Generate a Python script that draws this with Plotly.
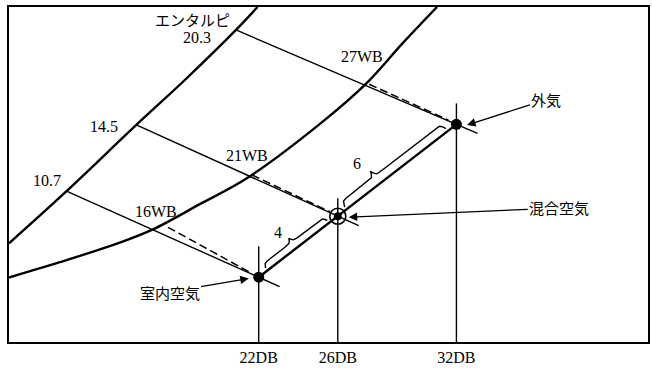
import numpy as np
import plotly.graph_objects as go

# ---------------- data ----------------
point_names = ["室内空気", "混合空気", "外気"]
db_points = [22, 26, 32]            # dry-bulb temperature of each state
w_points = [8.65, 13.2, 20.05]      # vertical (humidity) coordinate of each state
wb_values = [16, 21, 27]            # wet-bulb of each state
enthalpy_values = [10.7, 14.5, 20.3]
enth_db = [12.28, 15.81, 20.85]     # where each WB line leaves the enthalpy scale
enth_w = [15.07, 20.01, 27.09]
scale_db = [9.37, 12.28, 15.81, 18.33, 20.85, 21.94]   # enthalpy scale curve
scale_w = [11.18, 15.07, 20.01, 23.45, 27.09, 28.80]
sat_db = [9.37, 11.94, 14.97, 16.65, 19.00, 21.44, 25.05, 27.46, 29.25, 31.02]  # saturation curve
sat_w = [8.63, 9.77, 11.23, 12.22, 14.08, 16.07, 20.03, 23.13, 26.05, 28.80]
mix_ratio = [4, 6]

# ---------------- layout / scale helpers ----------------
FW, FH = 652, 368
ML, MR, MT, MB = 9, 2, 7, 25
PW, PH = FW - ML - MR, FH - MT - MB
XR = [9.37, 41.69]
YR = [3.82, 28.80]


def px(x):
    return ML + (x - XR[0]) / (XR[1] - XR[0]) * PW


def py(y):
    return MT + (YR[1] - y) / (YR[1] - YR[0]) * PH


def dx(p):
    return XR[0] + (p - ML) / PW * (XR[1] - XR[0])


def dy(p):
    return YR[1] - (p - MT) / PH * (YR[1] - YR[0])


def to_data(pts):
    pts = np.asarray(pts)
    return [dx(v) for v in pts[:, 0]], [dy(v) for v in pts[:, 1]]


def sig(v):
    return 1.0 / (1.0 + np.exp(-v))


def brace(p0, p1, frac, shrink=11.0, base=3.0, height=11.0, beta=0.9, n=80):
    p0 = np.array(p0, float)
    p1 = np.array(p1, float)
    d = p1 - p0
    u = d / np.hypot(*d)
    nrm = np.array([u[1], -u[0]])
    a = p0 + shrink * u
    b = p1 - shrink * u
    L = np.hypot(*(b - a))
    st = frac * L
    s1 = np.linspace(0, st, n)
    h1 = sig(beta * s1) - 0.5 + sig(beta * (s1 - st)) - sig(-beta * st)
    rt = L - st
    s2 = np.linspace(st, L, n)
    r = L - s2
    h2 = sig(beta * r) - 0.5 + sig(beta * (r - rt)) - sig(-beta * rt)
    s = np.concatenate([s1, s2])
    h = np.concatenate([h1, h2])
    off = base + height * h
    pts = a[None, :] + s[:, None] * u[None, :] + off[:, None] * nrm[None, :]
    tip = a + st * u + (base + height) * nrm
    return pts, tip


fig = go.Figure()
BLK = "black"

# enthalpy scale curve and saturation curve
fig.add_trace(go.Scatter(x=scale_db, y=scale_w, mode="lines",
                         line=dict(color=BLK, width=2.4, shape="spline"), hoverinfo="skip"))
fig.add_trace(go.Scatter(x=sat_db, y=sat_w, mode="lines",
                         line=dict(color=BLK, width=2.4, shape="spline"), hoverinfo="skip"))

state_px = [np.array([px(x), py(y)]) for x, y in zip(db_points, w_points)]

# wet-bulb lines and dashed enthalpy lines
dash_t = [0.51, 0.57, 0.60]
dash_off = [8.5, 2.2, 2.5]
for i in range(3):
    E = np.array([px(enth_db[i]), py(enth_w[i])])
    S = state_px[i]
    d = S - E
    u = d / np.hypot(*d)
    nrm = np.array([u[1], -u[0]])
    end = S + 23 * u
    xs, ys = to_data([E, end])
    fig.add_trace(go.Scatter(x=xs, y=ys, mode="lines",
                             line=dict(color=BLK, width=1.4), hoverinfo="skip"))
    a = E + dash_t[i] * d + dash_off[i] * nrm
    b = S - 9 * u + 0.8 * nrm
    xs, ys = to_data([a, b])
    fig.add_trace(go.Scatter(x=xs, y=ys, mode="lines",
                             line=dict(color=BLK, width=1.5, dash="8px,4px"), hoverinfo="skip"))

# vertical dry-bulb lines
ext = [31, 18, 21]
for i in range(3):
    fig.add_trace(go.Scatter(x=[db_points[i], db_points[i]],
                             y=[YR[0], dy(state_px[i][1] - ext[i])], mode="lines",
                             line=dict(color=BLK, width=1.4), hoverinfo="skip"))

# mixing line
fig.add_trace(go.Scatter(x=[db_points[0], db_points[2]], y=[w_points[0], w_points[2]],
                         mode="lines", line=dict(color=BLK, width=2.4), hoverinfo="skip"))

# braces 4 and 6
br4, tip4 = brace(state_px[0], state_px[1], 0.47, height=9.5)
br6, tip6 = brace(state_px[1], state_px[2], 0.33, height=12.5)
for br in (br4, br6):
    xs, ys = to_data(br)
    fig.add_trace(go.Scatter(x=xs, y=ys, mode="lines",
                             line=dict(color=BLK, width=1.4), hoverinfo="skip"))

# state markers
fig.add_trace(go.Scatter(x=[db_points[0], db_points[2]], y=[w_points[0], w_points[2]],
                         mode="markers", marker=dict(color=BLK, size=11), hoverinfo="skip"))
fig.add_trace(go.Scatter(x=[db_points[1]], y=[w_points[1]], mode="markers",
                         marker=dict(symbol="circle-open", color=BLK, size=16,
                                     line=dict(width=1.6, color=BLK)), hoverinfo="skip"))
fig.add_trace(go.Scatter(x=[db_points[1]], y=[w_points[1]], mode="markers",
                         marker=dict(color=BLK, size=8), hoverinfo="skip"))

SERIF = dict(family="Liberation Serif, Times New Roman, serif", size=16, color=BLK)
JP = dict(family="Noto Sans CJK JP", size=15, color=BLK)
ann = []


def text_at(cx, cy, t, font):
    ann.append(dict(x=dx(cx), y=dy(cy), xref="x", yref="y", text=t, showarrow=False,
                    font=font, xanchor="center", yanchor="middle"))


# enthalpy scale labels
shifts = [(-20, -11), (-32, 2), (-39, 8)]
for i in range(3):
    cx = px(enth_db[i]) + shifts[i][0]
    cy = py(enth_w[i]) + shifts[i][1]
    text_at(cx, cy, f"{enthalpy_values[i]}", SERIF)
text_at(193, 20, "エンタルピ", JP)

# wet-bulb labels
wb_pos = [(156, 212), (248, 156), (363, 57)]
for i in range(3):
    text_at(wb_pos[i][0], wb_pos[i][1], f"{wb_values[i]}WB", SERIF)

# ratio labels
text_at(tip4[0] - 11, tip4[1] - 6, str(mix_ratio[0]), SERIF)
text_at(tip6[0] - 13, tip6[1] - 8, str(mix_ratio[1]), SERIF)

# arrows with state names
tips = [(-10, 1.3), (11, 1), (10.7, 0.6)]
txt_pos = [(170, 293), (561, 208.5), (548, 100)]
for i in range(3):
    tx = state_px[i][0] + tips[i][0]
    ty = state_px[i][1] + tips[i][1]
    ann.append(dict(x=dx(tx), y=dy(ty), xref="x", yref="y",
                    ax=dx(txt_pos[i][0]), ay=dy(txt_pos[i][1]), axref="x", ayref="y",
                    text=point_names[i], font=JP, showarrow=True,
                    arrowhead=2, arrowsize=1.3, arrowwidth=1.3, arrowcolor=BLK, standoff=0))

fig.update_layout(
    width=FW, height=FH, margin=dict(l=ML, r=MR, t=MT, b=MB),
    paper_bgcolor="white", plot_bgcolor="white", showlegend=False,
    annotations=ann,
    xaxis=dict(range=XR, showgrid=False, zeroline=False, showline=True, mirror=True,
               linecolor=BLK, linewidth=2, ticks="", tickvals=db_points,
               ticktext=[f"{d}DB" for d in db_points], tickfont=SERIF),
    yaxis=dict(range=YR, showgrid=False, zeroline=False, showline=True, mirror=True,
               linecolor=BLK, linewidth=2, ticks="", showticklabels=False),
)

fig.write_html("out.html", config={"displayModeBar": False},
               post_script="document.body.style.margin='0';document.body.style.overflow='hidden';")
